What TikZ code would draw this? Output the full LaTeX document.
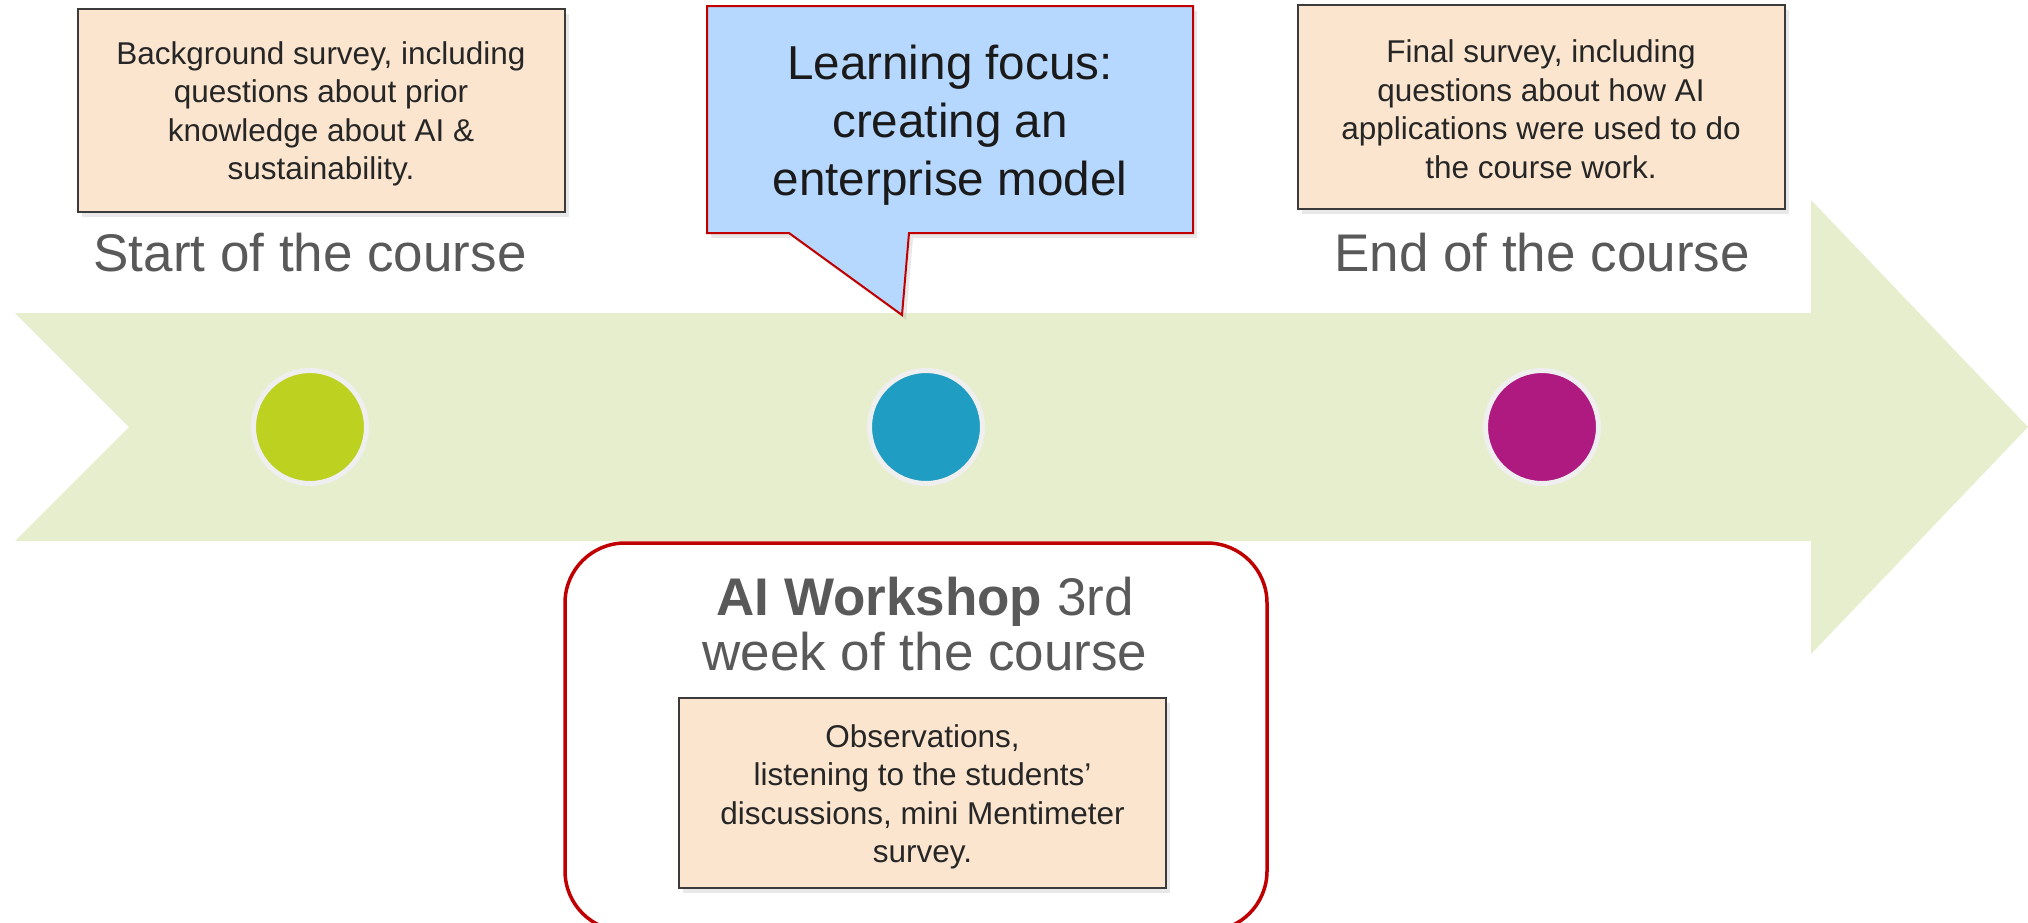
\documentclass[tikz,border=0pt]{standalone}
\usepackage{fontspec}
\setmainfont{Liberation Sans}
\usetikzlibrary{shadows}
\definecolor{peach}{HTML}{FBE5CE}
\definecolor{boxline}{HTML}{3B3B3B}
\definecolor{arrowfill}{HTML}{E6EECD}
\definecolor{calloutfill}{HTML}{B7D8FE}
\definecolor{darkred}{HTML}{C00000}
\definecolor{txtdark}{HTML}{262626}
\definecolor{txtgray}{HTML}{595959}
\definecolor{txtblack}{HTML}{1A1A1A}
\definecolor{cgreen}{HTML}{BDD121}
\definecolor{cblue}{HTML}{209DC2}
\definecolor{cmag}{HTML}{AE1A80}
\definecolor{ring}{HTML}{EFEFEF}
\begin{document}
\begin{tikzpicture}[x=0.5pt,y=-0.5pt,
  notebox/.style={draw=boxline, line width=1pt, fill=peach, inner sep=0pt,
    minimum width=243.5pt,
    drop shadow={opacity=0.18, shadow xshift=2pt, shadow yshift=-2.5pt}},
  notetext/.style={text=txtdark, align=center, inner sep=0pt,
    font=\fontsize{15.75}{19.25}\selectfont},
  bigtitle/.style={text=txtgray, align=center, inner sep=0pt,
    font=\fontsize{26.5}{27.5}\selectfont},
  dot/.style={circle, draw=ring, line width=2.5pt, minimum size=56.5pt, inner sep=0pt},
]
\path[use as bounding box] (0,0) rectangle (2028,922);
\clip (0,0) rectangle (2028,922);

% timeline arrow
\fill[arrowfill] (15,313) -- (1811,313) -- (1811,200) -- (2028,427) -- (1811,654)
  -- (1811,541) -- (15,541) -- (129,427) -- cycle;

% dots
\node[dot, fill=cgreen] (dstart) at (310,427) {};
\node[dot, fill=cblue] (dmid) at (926,427) {};
\node[dot, fill=cmag] (dend) at (1542,427) {};

% top notes
\node[notebox, minimum height=101.5pt] (bgsurvey) at (321,110) {};
\node[notetext] (bgtext) at (321,114)
  {Background survey, including\\questions about prior\\knowledge about AI \&\\sustainability.};
\node[bigtitle] (start) at (310,253) {Start of the course};

\node[notebox, minimum height=102pt] (finalsurvey) at (1541,107) {};
\node[notetext] (finaltext) at (1541,109)
  {Final survey, including\\questions about how AI\\applications were used to do\\the course work.};
\node[bigtitle] (end) at (1542,253) {End of the course};

% callout
\coordinate (ptip) at (902,315);
\path[fill=calloutfill, draw=darkred, line width=1pt, line join=miter,
  drop shadow={opacity=0.18, shadow xshift=2pt, shadow yshift=-2.5pt}]
  (707,6) -- (1193,6) -- (1193,233) -- (909,233) -- (ptip) -- (789,233) -- (707,233) -- cycle;
\node[text=txtblack, align=center, inner sep=0pt,
  font=\fontsize{23.8}{29}\selectfont] (focus) at (950,125)
  {Learning focus:\\creating an\\enterprise model};

% workshop
\node[draw=darkred, line width=1.75pt, rounded corners=30pt, inner sep=0pt,
  minimum width=351pt, minimum height=194pt] (workshop) at (916,737) {};
\node[bigtitle] (wtitle) at (925,624) {\textbf{AI Workshop} 3rd\\week of the course};
\node[notebox, minimum height=95pt] (obs) at (922.5,793) {};
\node[notetext] (obstext) at (922.5,797)
  {Observations,\\listening to the students’\\discussions, mini Mentimeter\\survey.};
\end{tikzpicture}
\end{document}
